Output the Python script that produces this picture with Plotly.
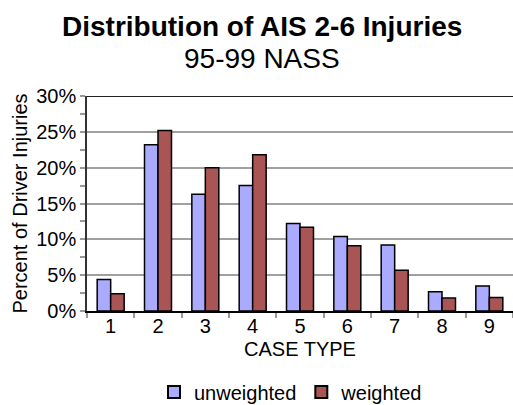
import plotly.graph_objects as go

categories = ["1", "2", "3", "4", "5", "6", "7", "8", "9"]
unweighted = [4.4, 23.2, 16.3, 17.5, 12.2, 10.4, 9.2, 2.7, 3.5]
weighted = [2.4, 25.2, 20.0, 21.8, 11.7, 9.1, 5.7, 1.8, 1.9]
y_ticks = [0, 5, 10, 15, 20, 25, 30]
y_labels = [f"{v}%" for v in y_ticks]

FONT = "Liberation Sans, Arial, sans-serif"
L, R, T, B = 87, 0, 96, 94
W, H = 513, 405
plot_h = H - T - B
plot_w = W - L - R


def px_x(x):
    return (x - L) / plot_w


def px_y(y):
    return (H - B - y) / plot_h


fig = go.Figure()
fig.add_trace(go.Bar(x=categories, y=unweighted, name="unweighted",
                     marker=dict(color="#AAAAFF", line=dict(color="#000000", width=1.5))))
fig.add_trace(go.Bar(x=categories, y=weighted, name="weighted",
                     marker=dict(color="#A95555", line=dict(color="#000000", width=1.5))))

fig.update_layout(
    width=W, height=H,
    margin=dict(l=L, r=R, t=T, b=B, autoexpand=False),
    paper_bgcolor="white", plot_bgcolor="white",
    font=dict(family=FONT, size=20, color="#000000"),
    barmode="group", bargap=0.43, bargroupgap=0,
    showlegend=True,
    legend=dict(orientation="h", x=px_x(291), xanchor="center", y=px_y(392), yanchor="middle",
                font=dict(size=20), tracegroupgap=0, itemsizing="constant"),
)
fig.add_annotation(text="<b>Distribution of AIS 2-6 Injuries</b>", x=px_x(262), y=px_y(27),
                   xref="paper", yref="paper", showarrow=False, font=dict(size=28),
                   xanchor="center", yanchor="middle")
fig.add_annotation(text="95-99 NASS", x=px_x(262), y=px_y(58),
                   xref="paper", yref="paper", showarrow=False, font=dict(size=28),
                   xanchor="center", yanchor="middle")

fig.update_xaxes(
    type="category", automargin=False,
    title=dict(text="CASE TYPE", font=dict(size=20), standoff=6),
    showline=True, linecolor="#000000", linewidth=1.5,
    ticks="outside", tickson="boundaries", ticklen=5, tickcolor="#999999", tickwidth=1.5,
    showgrid=False, tickfont=dict(size=20), ticklabelstandoff=-4,
)
fig.update_yaxes(
    range=[0, 30], tickvals=y_ticks, ticktext=y_labels, automargin=False,
    title=dict(text="Percent of Driver Injuries", font=dict(size=20), standoff=3),
    showline=True, linecolor="#333333", linewidth=1.5,
    ticks="outside", ticklen=5, tickcolor="#999999", tickwidth=1.5,
    minor=dict(tickvals=[2.5, 7.5, 12.5, 17.5, 22.5, 27.5], ticks="outside", ticklen=5,
               tickcolor="#999999", tickwidth=1.5, showgrid=False),
    showgrid=True, gridcolor="#A0A0A0", gridwidth=1.5,
    tickfont=dict(size=20), ticklabelstandoff=0, zeroline=False,
)
fig.add_shape(type="line", xref="paper", yref="y", x0=0, x1=1, y0=30, y1=30,
              line=dict(color="#222222", width=2))

fig.write_html("out.html", config={"displayModeBar": False},
               post_script="document.body.style.margin='0';")
